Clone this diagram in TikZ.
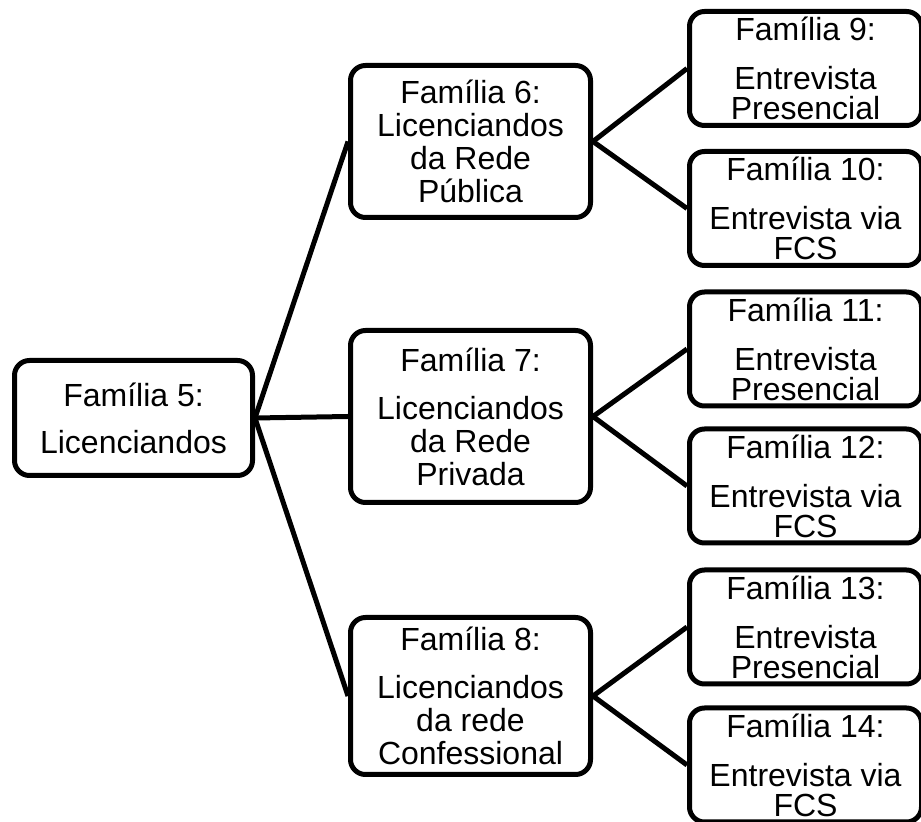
\documentclass[tikz,border=0pt]{standalone}
\usepackage{fontspec}
\setmainfont{Liberation Sans}

\begin{document}
\begin{tikzpicture}[x=0.5pt, y=-0.5pt, line width=2.5pt,
  box/.style={draw, rounded corners=7.5pt, align=center, inner sep=0pt,
    font=\fontsize{16}{16.5}\selectfont},
  mid/.style={box, minimum width=120pt},
  sub/.style={box, minimum width=116pt, minimum height=57pt,
    font=\fontsize{16}{15}\selectfont}]
\useasboundingbox (0,0) rectangle (921,822);
\node[box, minimum width=119pt, minimum height=57.5pt] (f5) at (133.5,418) {Família 5:\\[7pt]Licenciandos};
\node[mid, minimum height=76pt] (f6) at (470.5,141.5) {Família 6:\\Licenciandos\\da Rede\\Pública};
\node[mid, minimum height=86pt] (f7) at (470.5,416.5) {Família 7:\\[7.5pt]Licenciandos\\da Rede\\Privada};
\node[mid, minimum height=78.5pt] (f8) at (470.5,696) {Família 8:\\[7.5pt]Licenciandos\\da rede\\Confessional};
\foreach \p in {f6,f7,f8}
  \draw (f5.east) -- (\p.west);
\foreach \n/\y/\t/\p in {9/68.5/Entrevista\\Presencial/f6, 10/208.5/Entrevista via\\FCS/f6,
    11/349/Entrevista\\Presencial/f7, 12/486/Entrevista via\\FCS/f7,
    13/627/Entrevista\\Presencial/f8, 14/765/Entrevista via\\FCS/f8} {
  \node[sub] (f\n) at (805.5,\y) {Família \n:\\[9.5pt]\t};
  \draw (\p.east) -- (f\n.west);}
\end{tikzpicture}
\end{document}
